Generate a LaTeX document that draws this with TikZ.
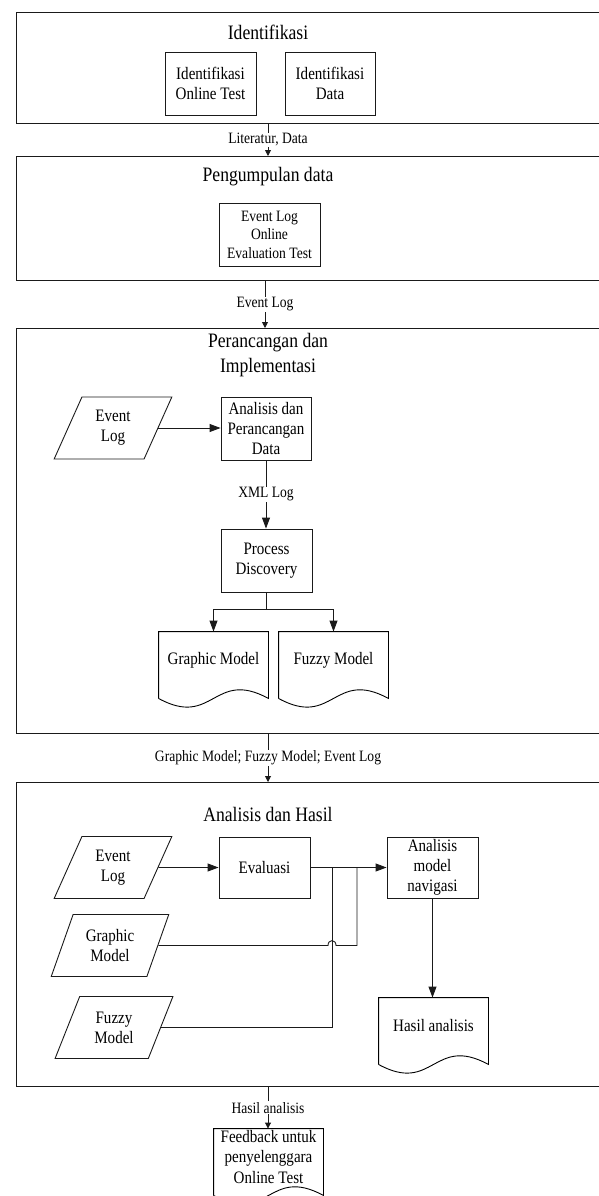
\documentclass[tikz,border=0pt]{standalone}
\usepackage{fontspec}
\setmainfont{Liberation Serif}[FakeStretch=0.86]
\usetikzlibrary{arrows.meta, shapes.geometric}

\begin{document}
\begin{tikzpicture}[x=1pt, y=-1pt, line width=0.9pt]
  % Define colours
  \definecolor{lineColour}{HTML}{1A1A1A}

  % Define font sizes
  \def\titleFont{\fontsize{20.5}{25}\selectfont}
  \def\boxFont{\fontsize{17.5}{20}\selectfont}
  \def\smallFont{\fontsize{15.8}{18.5}\selectfont}

  % Document outline with wavy bottom
  \def\docOutline#1{
    \draw ([yshift=-10pt]#1.south west) -- (#1.north west) -- (#1.north east) -- ([yshift=-10pt]#1.south east)
      .. controls ([yshift=20pt]#1.south) and ([yshift=-40pt]#1.south) .. ([yshift=-10pt]#1.south west);
  }

  \tikzset{
    stage/.style={draw=lineColour, rectangle, anchor=north west, minimum width=604pt, inner sep=0pt},
    proc/.style={draw=lineColour, rectangle, minimum width=91pt, minimum height=63pt, align=center, font=\boxFont, inner sep=0pt},
    datain/.style={draw=lineColour, trapezium, trapezium left angle=66, trapezium right angle=114, trapezium stretches=true,
      minimum width=118pt, minimum height=62pt, align=center, font=\boxFont, inner sep=0pt},
    doc/.style={rectangle, minimum width=109pt, minimum height=56pt, align=center, font=\boxFont, inner sep=0pt},
    flowlabel/.style={fill=white, font=\smallFont, inner sep=1pt},
    link/.style={draw=lineColour, -{Triangle[length=11pt,width=8pt]}},
    stagelink/.style={draw=lineColour, -{Triangle[length=6pt,width=6pt]}}
  }

  \clip (0,0) rectangle (599,1196);

  % Identifikasi
  \node[stage, minimum height=111pt] (idBox) at (16,12) {};
  \node[font=\titleFont] (idTitle) at (268,32) {Identifikasi};
  \node[proc] (idTest) at (210.5,83.5) {Identifikasi\\Online Test};
  \node[proc, minimum width=90pt] (idData) at (330,83.5) {Identifikasi\\Data};

  % Pengumpulan data
  \node[stage, minimum height=124pt] (collectBox) at (16,156) {};
  \node[font=\titleFont] (collectTitle) at (268,177) {Pengumpulan data};
  \node[proc, minimum width=101pt, font=\smallFont] (evLogBox) at (269.5,234.5) {Event Log\\Online\\Evaluation Test};

  % Perancangan dan Implementasi
  \node[stage, minimum height=405pt] (designBox) at (16,328) {};
  \node[font=\titleFont, align=center] (designTitle) at (268,355) {Perancangan dan\\Implementasi};
  \node[datain] (pEventA) at (113,428) {Event\\Log};
  \node[proc, minimum width=90pt] (anaBox) at (266,428.5) {Analisis dan\\Perancangan\\Data};
  \node[proc] (pdBox) at (266.5,560.5) {Process\\Discovery};
  \node[doc] (gmDoc) at (213.5,660) {Graphic Model};
  \node[doc] (fmDoc) at (333.5,660) {Fuzzy Model};
  \docOutline{gmDoc}
  \docOutline{fmDoc}

  \draw[link] (pEventA.east) -- (pEventA.east -| anaBox.west);
  \draw[link] (anaBox.south) -- node[flowlabel] {XML Log} (anaBox.south |- pdBox.north);
  \draw[draw=lineColour] (pdBox.south) -- ++(0,17) coordinate (split);
  \draw[link] (split) -| (gmDoc.north);
  \draw[link] (split) -| (fmDoc.north);

  % Analisis dan Hasil
  \node[stage, minimum height=304pt] (resultBox) at (16,782) {};
  \node[font=\titleFont] (resultTitle) at (268,814) {Analisis dan Hasil};
  \node[datain] (pEventB) at (113,867.5) {Event\\Log};
  \node[datain] (pGraphic) at (110,945.5) {Graphic\\Model};
  \node[datain] (pFuzzy) at (114,1027.5) {Fuzzy\\Model};
  \node[proc, minimum height=61pt] (evalBox) at (264.5,867.5) {Evaluasi};
  \node[proc, minimum height=61pt] (navBox) at (432.5,867.5) {Analisis\\model\\navigasi};
  \node[doc] (hasilDoc) at (433.5,1026) {Hasil analisis};
  \docOutline{hasilDoc}
  \coordinate (fuzzyJoin) at (332,867.5);
  \coordinate (graphicJoin) at (357,867.5);

  \draw[link] (pEventB.east) -- (evalBox.west);
  \draw[link] (evalBox.east) -- (navBox.west);
  \draw[draw=lineColour] (pFuzzy.east) -| (fuzzyJoin);
  \draw[draw=lineColour] (pGraphic.east) -- (328,945.5) .. controls (328,939) and (336,939) .. (336,945.5) -| (graphicJoin);
  \draw[link] (navBox.south) -- (navBox.south |- hasilDoc.north);

  % Feedback
  \node[doc] (feedDoc) at (268.5,1157) {Feedback untuk\\penyelenggara\\Online Test};
  \docOutline{feedDoc}

  % Links between stages
  \draw[stagelink] (idTitle |- idBox.south) -- node[flowlabel] {Literatur, Data} (idTitle |- collectBox.north);
  \draw[stagelink] (collectBox.south -| 265,0) -- node[flowlabel] {Event Log} (designBox.north -| 265,0);
  \draw[stagelink] (designTitle |- designBox.south) -- node[flowlabel] {Graphic Model; Fuzzy Model; Event Log} (designTitle |- resultBox.north);
  \draw[stagelink] (resultTitle |- resultBox.south) -- node[flowlabel] {Hasil analisis} (resultTitle |- feedDoc.north);
\end{tikzpicture}
\end{document}
